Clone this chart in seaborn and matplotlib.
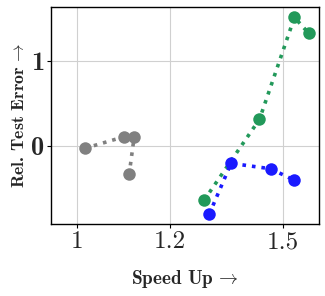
import matplotlib
matplotlib.use("Agg")
import matplotlib.pyplot as plt
import seaborn as sns
import pandas as pd
import numpy as np

gray_x = [1.015, 1.097, 1.119, 1.108]
gray_y = [-0.024, 0.113, 0.113, -0.329]
green_x = [1.284, 1.432, 1.534, 1.578]
green_y = [-0.635, 0.318, 1.518, 1.329]
blue_x = [1.297, 1.354, 1.464, 1.534]
blue_y = [-0.80, -0.20, -0.264, -0.40]

x_ticks = [1, 1.2, 1.5]
x_tick_labels = ["1", "1.2", "1.5"]
y_ticks = [0, 1]
y_tick_labels = ["0", "1"]

series = [
    ("gray", gray_x, gray_y, "#808080"),
    ("green", green_x, green_y, "#22995a"),
    ("blue", blue_x, blue_y, "#1a1aff"),
]

sns.set_theme(style="whitegrid")
plt.rcParams["mathtext.fontset"] = "cm"
plt.rcParams["axes.unicode_minus"] = False

fig = plt.figure(figsize=(3.25, 2.96), dpi=100)
ax = fig.add_axes([51/325, 1 - 224/296, (319-51)/325, (224-7)/296])

for name, xs, ys, c in series:
    df = pd.DataFrame({"x": xs, "y": ys})
    sns.lineplot(data=df, x="x", y="y", sort=False, ax=ax, color=c,
                 linestyle=":", linewidth=2.6, marker="o", markersize=9,
                 markeredgewidth=0, markerfacecolor=c)

ax.set_xscale("log")
ax.set_xlim(0.95, 1.61)
ax.set_ylim(-0.914, 1.64)
ax.set_xticks(x_ticks)
ax.set_xticklabels(x_tick_labels, fontfamily="cmr10", fontsize=18)
ax.xaxis.set_minor_locator(matplotlib.ticker.NullLocator())
ax.set_yticks(y_ticks)
ax.set_yticklabels(y_tick_labels, fontfamily="cmb10", fontsize=19)

ax.grid(True, color="#d0d0d0", linewidth=0.8)
for s in ax.spines.values():
    s.set_color("black")
    s.set_linewidth(1.0)
ax.tick_params(axis="both", which="major", length=3, width=0.8, color="black",
               direction="out", left=True, bottom=True, pad=2)

ax.set_xlabel(r"Speed Up$\,\rightarrow$", fontfamily="cmb10", fontsize=13.8, labelpad=11)
ax.set_ylabel(r"Rel. Test Error$\,\rightarrow$", fontfamily="cmb10", fontsize=12.8, labelpad=3)

fig.savefig("out.png", dpi=100)
